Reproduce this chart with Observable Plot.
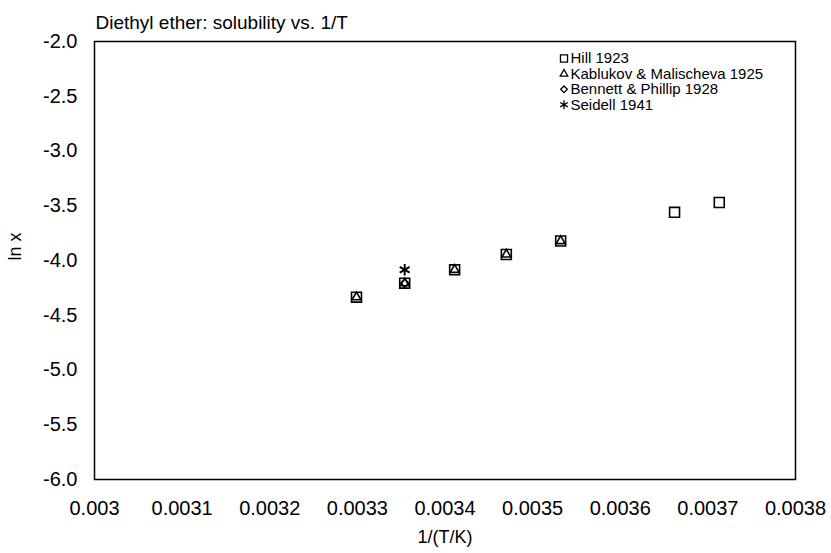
<!DOCTYPE html>
<html>
<head>
<meta charset="utf-8">
<script src="https://cdn.jsdelivr.net/npm/d3@7"></script>
<script src="https://cdn.jsdelivr.net/npm/@observablehq/plot@0.6"></script>
<style>
  html, body { margin: 0; padding: 0; background: #fff; }
  svg { font-family: "Liberation Sans", Arial, sans-serif; }
</style>
</head>
<body>
<div id="chart"></div>
<script>
// ---- data ----
const title = "Diethyl ether: solubility vs. 1/T";
const xLabel = "1/(T/K)";
const yLabel = "ln x";

const hillX = [0.003299, 0.003354, 0.003411, 0.003470, 0.003532, 0.003662, 0.003713];
const hillY = [-4.335, -4.207, -4.085, -3.945, -3.822, -3.56, -3.47];

const kablukovX = [0.003299, 0.003354, 0.003411, 0.003470, 0.003532];
const kablukovY = [-4.335, -4.207, -4.085, -3.945, -3.822];

const bennettX = [0.003354];
const bennettY = [-4.207];

const seidellX = [0.003354];
const seidellY = [-4.085];

const seriesNames = ["Hill 1923", "Kablukov & Malischeva 1925", "Bennett & Phillip 1928", "Seidell 1941"];
const seriesSymbols = ["square", "triangle", "diamond2", "asterisk"];

const xTicks = [0.003, 0.0031, 0.0032, 0.0033, 0.0034, 0.0035, 0.0036, 0.0037, 0.0038];
const yTicks = [-2.0, -2.5, -3.0, -3.5, -4.0, -4.5, -5.0, -5.5, -6.0];

// ---- build ----
const zip = (xs, ys) => xs.map((x, i) => ({x, y: ys[i]}));
const series = [zip(hillX, hillY), zip(kablukovX, kablukovY), zip(bennettX, bennettY), zip(seidellX, seidellY)];
const markR = [5.6, 3.3, 3.6, 5.4];
const markSW = [1.6, 1.6, 1.6, 2];
const legendR = [4.0, 2.8, 3.0, 4.2];

const marks = [
  Plot.frame({stroke: "#000", strokeWidth: 1.5}),
  Plot.axisX({ticks: xTicks, tickSize: 0, tickPadding: 21, fontSize: 20,
    tickFormat: d => String(+d.toFixed(4)), label: null}),
  Plot.axisY({ticks: yTicks, tickSize: 0, tickPadding: 17, fontSize: 20,
    tickFormat: d => d.toFixed(1), label: null}),
  Plot.text([title], {frameAnchor: "top-left", dx: 1, dy: -19, text: d => d,
    textAnchor: "start", lineAnchor: "middle", fontSize: 19}),
  Plot.text([xLabel], {frameAnchor: "bottom", dy: 58, text: d => d,
    lineAnchor: "middle", fontSize: 18}),
  Plot.text([yLabel], {frameAnchor: "left", dx: -79, text: d => d,
    rotate: -90, lineAnchor: "middle", fontSize: 18})
];

series.forEach((data, i) => {
  marks.push(Plot.dot(data, {x: "x", y: "y", symbol: () => seriesSymbols[i], r: markR[i],
    stroke: "#000", strokeWidth: markSW[i], fill: "none"}));
});

seriesNames.forEach((name, i) => {
  marks.push(Plot.dot([name], {frameAnchor: "top-left", dx: 469.5, dy: 17 + i * 15.4,
    symbol: () => seriesSymbols[i], r: legendR[i], stroke: "#000", strokeWidth: 1.3, fill: "none"}));
  marks.push(Plot.text([name], {frameAnchor: "top-left", dx: 476, dy: 17 + i * 15.4,
    text: d => d, textAnchor: "start", lineAnchor: "middle", fontSize: 15}));
});

const chart = Plot.plot({
  width: 831,
  height: 553,
  marginLeft: 94,
  marginRight: 36,
  marginTop: 41,
  marginBottom: 74,
  style: {fontFamily: '"Liberation Sans", Arial, sans-serif', color: "#000", background: "#fff"},
  symbol: {type: "identity"},
  x: {domain: [0.003, 0.0038]},
  y: {domain: [-6, -2]},
  marks
});
document.getElementById("chart").appendChild(chart);
</script>
</body>
</html>
